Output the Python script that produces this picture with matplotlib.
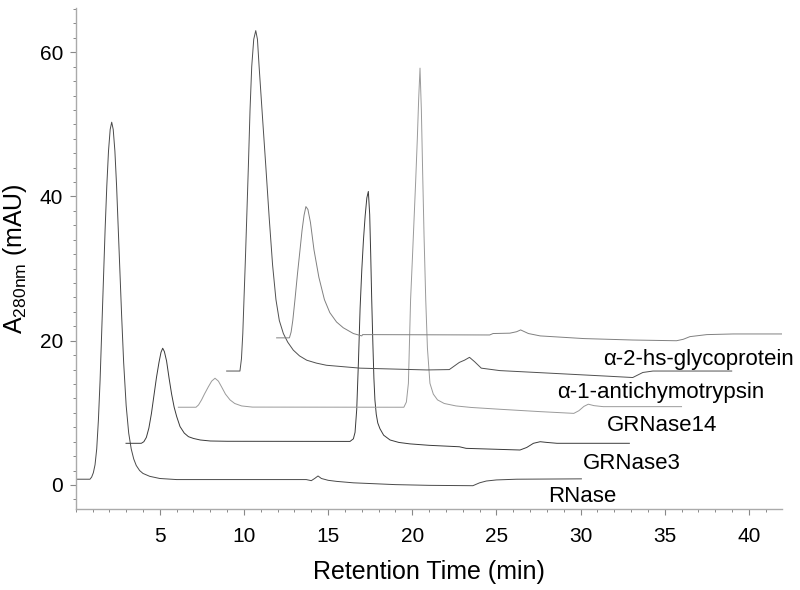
import matplotlib
matplotlib.use("Agg")
import matplotlib.pyplot as plt
from matplotlib.ticker import MultipleLocator

plt.rcParams['font.family'] = ['Liberation Sans', 'DejaVu Sans']
plt.rcParams['mathtext.fontset'] = 'custom'
plt.rcParams['mathtext.rm'] = 'Liberation Sans'

# retention time (min) / absorbance (mAU)
rnase_t = [0, 0.85, 0.95, 1.05, 1.15, 1.25, 1.35, 1.45, 1.55, 1.65, 1.75, 1.85, 1.95,
           2.05, 2.14, 2.23, 2.33, 2.43, 2.53, 2.63, 2.73, 2.85, 3.0, 3.15, 3.3, 3.45,
           3.6, 3.8, 4.0, 4.4, 5.0, 6.0, 13.7, 14.0, 14.2, 14.4, 14.6, 15.0, 15.5, 16.5,
           17.5, 19.0, 21.0, 23.6, 24.0, 24.4, 25.0, 26.2, 30.05]
rnase_a = [0.8, 0.8, 1.1, 1.7, 2.8, 5.0, 9.0, 14.5, 21.5, 28.5, 35.5, 41.5, 46.3,
           49.3, 50.3, 49.3, 46.3, 41.5, 35.5, 29.5, 23.5, 17.0, 11.0, 7.2, 5.0, 3.6,
           2.7, 2.0, 1.6, 1.2, 0.9, 0.75, 0.75, 0.6, 0.9, 1.25, 0.9, 0.65, 0.5, 0.3,
           0.2, 0.05, -0.05, -0.1, 0.3, 0.55, 0.7, 0.8, 0.85]

grn3_t = [2.99, 3.9, 4.05, 4.2, 4.35, 4.5, 4.65, 4.8, 4.95, 5.07, 5.17, 5.27, 5.4,
          5.55, 5.7, 5.85, 6.0, 6.2, 6.45, 6.7, 7.0, 7.4, 8.0, 9.0, 16.3, 16.5, 16.6,
          16.7, 16.8, 16.9, 17.0, 17.1, 17.2, 17.3, 17.39, 17.47, 17.53, 17.59, 17.66,
          17.72, 17.78, 17.86, 17.95, 18.08, 18.3, 18.68, 19.2, 19.86, 21.0, 22.8, 23.2,
          25.0, 26.4, 26.8, 27.2, 27.6, 28.0, 28.6, 32.9]
grn3_a = [5.78, 5.78, 6.0, 6.6, 7.9, 9.9, 12.4, 14.9, 17.0, 18.4, 18.96, 18.5, 17.2,
          14.8, 12.6, 10.8, 9.5, 8.1, 7.2, 6.7, 6.45, 6.24, 6.1, 6.06, 6.04, 6.4, 7.3,
          10.5, 17.0, 24.5, 29.8, 34.0, 37.3, 39.8, 40.7, 37.5, 32.0, 25.7, 19.5,
          14.8, 11.8, 9.8, 8.6, 7.8, 6.9, 6.24, 5.9, 5.7, 5.5, 5.3, 5.08,
          4.95, 4.85, 5.2, 5.78, 6.0, 5.9, 5.78, 5.78]

grn14_t = [6.1, 7.15, 7.3, 7.48, 7.65, 7.88, 8.08, 8.28, 8.48, 8.67, 8.9, 9.17, 9.45,
           9.86, 10.5, 19.5, 19.65, 19.77, 19.9, 20.0, 20.1, 20.2, 20.3, 20.38, 20.46,
           20.54, 20.62, 20.7, 20.8, 20.9, 21.05, 21.25, 21.5, 21.9, 22.6, 23.5, 25.2,
           27.6, 29.6, 29.9, 30.2, 30.46, 30.8, 31.35, 36.0]
grn14_a = [10.78, 10.78, 11.1, 11.8, 12.6, 13.6, 14.4, 14.8, 14.4, 13.6, 12.6, 11.8, 11.3,
           10.96, 10.8, 10.78, 11.5, 14.1, 25.7, 31.0, 36.5, 42.0, 48.0, 53.5, 57.8,
           52.0, 43.0, 34.5, 25.7, 19.0, 14.1, 12.6, 11.8, 11.3, 10.96, 10.75, 10.5,
           10.17, 9.93, 10.3, 10.9, 11.2, 11.0, 10.86, 10.86]

a1act_t = [8.97, 9.76, 9.85, 9.93, 10.0, 10.08, 10.17, 10.26, 10.36, 10.46, 10.58, 10.7,
           10.8, 10.9, 11.1, 11.3, 11.5, 11.7, 11.9, 12.1, 12.34, 12.6, 12.93, 13.3,
           13.73, 14.3, 14.9, 16.9, 20.86, 22.2, 22.5, 22.8, 23.1, 23.4, 23.7, 24.1,
           25.2, 28.2, 31.5, 33.1, 33.7, 34.3, 38.98]
a1act_a = [15.8, 15.8, 17.5, 21.0, 25.7, 31.0, 37.5, 44.1, 52.0, 58.0, 61.8, 63.0,
           61.8, 58.0, 51.0, 44.1, 37.0, 30.5, 25.7, 22.8, 21.0, 19.8, 18.7, 17.9,
           17.3, 16.9, 16.6, 16.2, 15.95, 16.0, 16.5, 17.0, 17.3, 17.7, 17.1, 16.2,
           15.86, 15.5, 15.1, 14.9, 15.6, 15.8, 15.8]

a2hs_t = [11.94, 12.7, 12.8, 12.9, 13.03, 13.18, 13.33, 13.45, 13.57, 13.68, 13.8, 13.95,
          14.16, 14.45, 14.78, 15.1, 15.5, 15.9, 16.5, 17.0, 17.05, 24.6, 24.8, 25.8, 26.2,
          26.44, 26.9, 27.6, 30.2, 33.1, 35.7, 36.1, 36.5, 37.5, 39.07, 41.95]
a2hs_a = [20.4, 20.4, 21.2, 22.8, 25.7, 29.3, 32.6, 35.3, 37.4, 38.6, 38.2, 36.4,
          32.6, 28.8, 25.7, 23.9, 22.6, 21.8, 21.0, 20.67, 20.85, 20.8, 21.0, 21.05, 21.25,
          21.5, 21.0, 20.67, 20.3, 20.1, 20.0, 20.2, 20.57, 20.85, 20.94, 20.94]

names = ["RNase", "GRNase3", "GRNase14", "\u03b1-1-antichymotrypsin", "\u03b1-2-hs-glycoprotein"]
label_pos = [(28.08, -2.3), (30.16, 2.18), (31.55, 7.53), (28.58, 12.1), (31.35, 16.64)]
colors = ["#4a4a4a", "#3a3a3a", "#9a9a9a", "#505050", "#808080"]

fig = plt.figure(figsize=(8, 5.9), dpi=100)
ax = fig.add_axes([0.0946, 0.1368, 0.8825, 0.8492])

traces = [(rnase_t, rnase_a), (grn3_t, grn3_a), (grn14_t, grn14_a),
          (a1act_t, a1act_a), (a2hs_t, a2hs_a)]
for (t, a), c in zip(traces, colors):
    ax.plot(t, a, color=c, lw=0.7)

for name, (x, y) in zip(names, label_pos):
    ax.text(x, y, name, fontsize=16, ha='left', va='baseline')

ax.set_xlim(0, 41.95)
ax.set_ylim(-3.37, 66.1)
ax.xaxis.set_minor_locator(MultipleLocator(1))
ax.yaxis.set_major_locator(MultipleLocator(20))
ax.yaxis.set_minor_locator(MultipleLocator(2))
ax.set_xticks([5, 10, 15, 20, 25, 30, 35, 40])

for s in ['top', 'right']:
    ax.spines[s].set_visible(False)
for s in ['left', 'bottom']:
    ax.spines[s].set_color('#aaaaaa')
    ax.spines[s].set_linewidth(1.0)

ax.tick_params(which='major', length=4, width=0.8, color='#888888', labelsize=15)
ax.tick_params(which='minor', length=2.5, width=0.7, color='#888888')
ax.tick_params(axis='x', which='major', pad=9)
ax.tick_params(axis='y', which='major', pad=5)

ax.set_xlabel("Retention Time (min)", fontsize=18, labelpad=10)
ax.set_ylabel(r"A$_{\mathregular{280nm}}$ (mAU)", fontsize=18, labelpad=8)

fig.savefig("out.png", dpi=100)
